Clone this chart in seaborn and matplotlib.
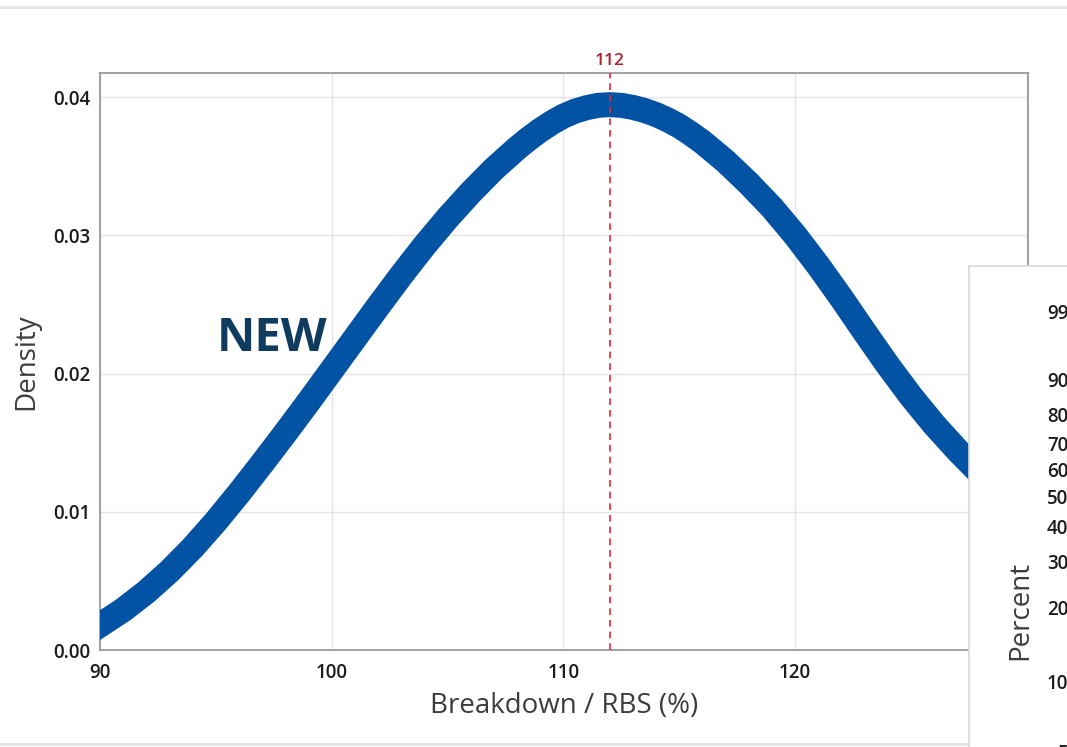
import numpy as np
import pandas as pd
import matplotlib
matplotlib.use("Agg")
import matplotlib.pyplot as plt
from matplotlib.patches import Rectangle
from matplotlib.lines import Line2D
from matplotlib.transforms import blended_transform_factory
import seaborn as sns

# Fitted density of breakdown strength (% of rated breaking strength)
breakdown = [90, 91, 92, 93, 94, 95, 96, 97, 98, 99,
             100, 101, 102, 103, 104, 105, 106, 107, 108, 108.5,
             109, 109.5, 110, 110.5, 111, 111.5, 112, 112.5, 113, 113.5,
             114, 114.5, 115, 115.5, 116, 117, 118, 119, 120, 121,
             122, 123, 124, 125, 126, 127, 128, 129, 130]
density = [0.00180, 0.00290, 0.00420, 0.00570, 0.00740, 0.00930, 0.01135, 0.01350, 0.01570, 0.01795,
           0.02025, 0.02255, 0.02485, 0.02710, 0.02925, 0.03125, 0.03310, 0.03480, 0.03630, 0.03698,
           0.03760, 0.03815, 0.03862, 0.03898, 0.03923, 0.03940, 0.03945, 0.03940, 0.03925, 0.03903,
           0.03873, 0.03835, 0.03790, 0.03735, 0.03675, 0.03535, 0.03375, 0.03200, 0.03000, 0.02780,
           0.02545, 0.02300, 0.02060, 0.01835, 0.01630, 0.01445, 0.01275, 0.01120, 0.00985]

reference_value = 112
x_ticks = [90, 100, 110, 120, 130]
y_ticks = [0.00, 0.01, 0.02, 0.03, 0.04]
percent_ticks = [5, 10, 20, 30, 40, 50, 60, 70, 80, 90, 99]

W, H, DPI = 1067, 747, 100

sns.set_style("white")
plt.rcParams["font.family"] = ["Open Sans", "DejaVu Sans"]

fig = plt.figure(figsize=(W / DPI, H / DPI), dpi=DPI)
fig.patch.set_facecolor("white")

def fx(px):
    return px / W

def fy(py):
    return 1 - py / H

# main density panel
ax = fig.add_axes([fx(100), fy(650), fx(1028) - fx(100), fy(73) - fy(650)])
df = pd.DataFrame({"Breakdown": breakdown, "Density": density})
sns.lineplot(data=df, x="Breakdown", y="Density", ax=ax, color="#0353a4",
             linewidth=18, solid_capstyle="projecting", solid_joinstyle="round",
             zorder=3)

ax.set_xlim(90, 130.05)
ax.set_ylim(0, 0.04174)
ax.set_xticks(x_ticks)
ax.set_yticks(y_ticks)
ax.set_yticklabels([f"{v:.2f}" for v in y_ticks])
ax.grid(True, color="#e4e4e4", linewidth=1.0, zorder=0)
ax.set_axisbelow(True)
for s in ax.spines.values():
    s.set_visible(True)
    s.set_color("#9a9a9a")
    s.set_linewidth(1.3)
ax.tick_params(axis="both", length=4, width=1, color="#9a9a9a",
               labelcolor="#1c1c1c", labelsize=13.5)
ax.tick_params(axis="y", pad=3)
ax.tick_params(axis="x", pad=5)
for lab in ax.get_xticklabels() + ax.get_yticklabels():
    lab.set_fontweight("semibold")

ax.set_xlabel("Breakdown / RBS (%)", fontsize=20, color="#3c3c3c")
ax.set_ylabel("Density", fontsize=20, color="#3c3c3c")
ax.xaxis.set_label_coords(0.5, -0.073)
ax.yaxis.set_label_coords(-0.064, 0.5)

# reference line at the target value
ax.axvline(reference_value, color="#e8262e", linestyle=(0, (4, 3)),
           linewidth=1.2, zorder=4)
trans = blended_transform_factory(ax.transData, ax.transAxes)
ax.text(reference_value, 1 + 12 / 577, f"{reference_value}", transform=trans,
        ha="center", va="center", color="#a8232b", fontsize=12.5,
        fontweight="semibold", clip_on=False)

ax.text(97.42, 0.0225, "NEW", ha="center", va="center", fontsize=34,
        fontweight="bold", color="#0e3b5e", zorder=5)

# page edge lines
fig.add_artist(Line2D([0, 1], [fy(7), fy(7)], color="#e3e3e3", linewidth=2,
                      transform=fig.transFigure, zorder=1))
fig.add_artist(Line2D([0, fx(970)], [fy(744), fy(744)], color="#e3e3e3",
                      linewidth=2, transform=fig.transFigure, zorder=1))

# overlapping probability-plot window
fig.add_artist(Rectangle((fx(969), fy(800)), 0.3, fy(266) - fy(800),
                         transform=fig.transFigure, facecolor="white",
                         edgecolor="#d8d8d8", linewidth=1.2, zorder=2))

def weib_fwd(p):
    p = np.clip(np.asarray(p, dtype=float), 1e-6, 100 - 1e-6)
    return np.log(-np.log(1 - p / 100.0))

def weib_inv(w):
    return 100.0 * (1 - np.exp(-np.exp(np.asarray(w, dtype=float))))

ax2 = fig.add_axes([fx(1078), fy(760), 0.3, fy(280) - fy(760)])
ax2.set_zorder(6)
ax2.patch.set_visible(False)
ax2.set_yscale("function", functions=(weib_fwd, weib_inv))
w_top = 1.527 + (312 - 280) / 97.7
w_bot = 1.527 - (760 - 312) / 97.7
ax2.set_ylim(float(weib_inv(w_bot)), float(weib_inv(w_top)))
ax2.set_yticks(percent_ticks)
ax2.set_yticklabels([str(p) for p in percent_ticks])
ax2.yaxis.set_minor_locator(matplotlib.ticker.NullLocator())
ax2.set_xticks([])
for s in ax2.spines.values():
    s.set_visible(False)
ax2.tick_params(axis="y", length=4, width=1, color="#9a9a9a",
                labelcolor="#1c1c1c", labelsize=13.5, pad=3)
for lab in ax2.get_yticklabels():
    lab.set_fontweight("semibold")

fig.text(fx(1020), fy(610), "Percent", rotation=90, ha="center", va="center",
         fontsize=20, color="#3c3c3c", zorder=7)

fig.savefig("out.png", dpi=DPI)
